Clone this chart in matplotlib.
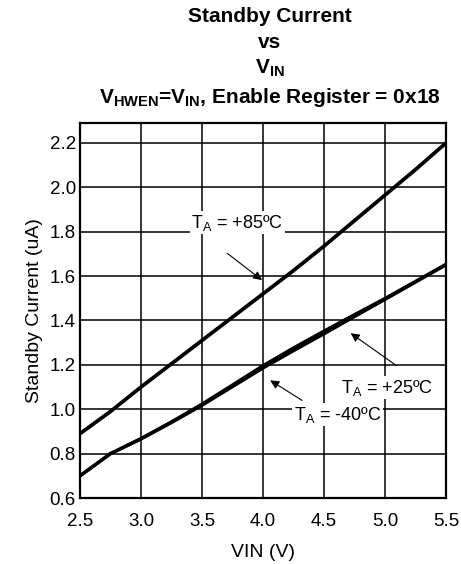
import matplotlib
matplotlib.use('Agg')
import matplotlib.pyplot as plt

plt.rcParams['font.family'] = ['Liberation Sans', 'DejaVu Sans']
plt.rcParams['mathtext.fontset'] = 'custom'
plt.rcParams['mathtext.rm'] = 'Liberation Sans'
plt.rcParams['mathtext.bf'] = 'Liberation Sans:bold'
plt.rcParams['mathtext.it'] = 'Liberation Sans:italic'

# standby current vs input voltage, per ambient temperature
vin = [2.5, 2.75, 3.0, 3.25, 3.5, 3.75, 4.0, 4.25, 4.5, 4.75, 5.0, 5.25, 5.5]
i_85 = [0.89, 0.99, 1.10, 1.205, 1.31, 1.415, 1.52, 1.625, 1.735, 1.85, 1.965, 2.08, 2.20]
i_25 = [0.70, 0.80, 0.868, 0.943, 1.023, 1.109, 1.196, 1.276, 1.352, 1.426, 1.499, 1.576, 1.653]
i_m40 = [0.70, 0.80, 0.866, 0.940, 1.018, 1.102, 1.186, 1.264, 1.340, 1.418, 1.495, 1.573, 1.651]

xticks = [2.5, 3.0, 3.5, 4.0, 4.5, 5.0, 5.5]
yticks = [0.6, 0.8, 1.0, 1.2, 1.4, 1.6, 1.8, 2.0, 2.2]

fig = plt.figure(figsize=(4.61, 5.64), dpi=100)
ax = fig.add_axes([0.1735, 0.117, 0.794, 0.665])

ax.plot(vin, i_85, color='black', lw=2.7, solid_capstyle='butt')
ax.plot(vin, i_25, color='black', lw=2.4, solid_capstyle='butt')
ax.plot(vin, i_m40, color='black', lw=2.4, solid_capstyle='butt')

ax.set_xlim(2.5, 5.5)
ax.set_ylim(0.6, 2.29)
ax.set_xticks(xticks)
ax.set_xticklabels(['%.1f' % v for v in xticks])
ax.set_yticks(yticks)
ax.set_yticklabels(['%.1f' % v for v in yticks])
ax.tick_params(length=0, labelsize=13.5)
ax.tick_params(axis='x', pad=11)
ax.tick_params(axis='y', pad=3)
ax.grid(True, color='black', lw=1.1)
for sp in ax.spines.values():
    sp.set_linewidth(1.6)

ax.set_xlabel('VIN (V)', fontsize=14, labelpad=10)
ax.set_ylabel('Standby Current (uA)', fontsize=14, labelpad=5)

# labels with arrows
box = dict(facecolor='white', edgecolor='none', pad=1)
ax.text(3.79, 1.84, r'T$_\mathregular{A}$ = +85ºC', fontsize=13,
        ha='center', va='center', bbox=box)
ax.annotate('', xy=(4.01, 1.574), xytext=(3.69, 1.71),
            arrowprops=dict(arrowstyle='-|>', color='black', lw=0.8, mutation_scale=13))
ax.text(5.02, 1.096, r'T$_\mathregular{A}$ = +25ºC', fontsize=13,
        ha='center', va='center', bbox=box)
ax.annotate('', xy=(4.70, 1.35), xytext=(5.11, 1.19),
            arrowprops=dict(arrowstyle='-|>', color='black', lw=0.8, mutation_scale=13))
ax.text(4.61, 0.975, r'T$_\mathregular{A}$ = -40ºC', fontsize=13,
        ha='center', va='center', bbox=box)
ax.annotate('', xy=(4.04, 1.137), xytext=(4.34, 1.033),
            arrowprops=dict(arrowstyle='-|>', color='black', lw=0.8, mutation_scale=13))

# title block
fig.text(0.585, 0.970, 'Standby Current', fontsize=15, fontweight='bold', ha='center', va='center')
fig.text(0.585, 0.924, 'vs', fontsize=15, fontweight='bold', ha='center', va='center')
fig.text(0.585, 0.879, r'$\mathbf{V_{IN}}$', fontsize=15, ha='center', va='center')
fig.text(0.585, 0.828, r'$\mathbf{V_{HWEN}}$=$\mathbf{V_{IN}}$, Enable Register = 0x18',
         fontsize=15, fontweight='bold', ha='center', va='center')

fig.savefig('out.png', dpi=100)
